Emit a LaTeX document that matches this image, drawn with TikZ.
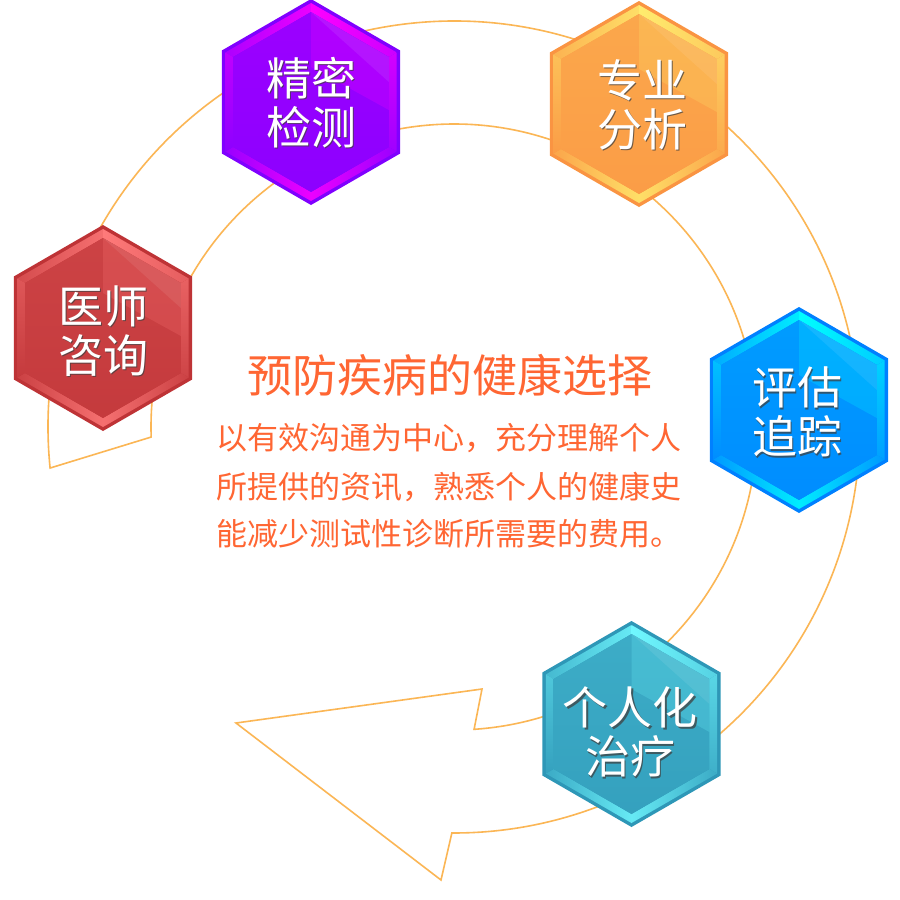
\documentclass[tikz,border=0pt]{standalone}
\usepackage{fontspec}
\newfontfamily\cjk{Noto Sans CJK SC}
\usetikzlibrary{calc}
\definecolor{ribbon}{HTML}{FBB655}
\definecolor{titlecol}{HTML}{FF6633}
\definecolor{pBase}{HTML}{8000FF}\definecolor{pHi}{HTML}{FF00FF}
\definecolor{rBase}{HTML}{BE3336}\definecolor{rHi}{HTML}{FF7A7A}
\definecolor{oBase}{HTML}{FA9442}\definecolor{oHi}{HTML}{FFEC6E}
\definecolor{bBase}{HTML}{0080FF}\definecolor{bHi}{HTML}{00FFFF}
\definecolor{tBase}{HTML}{2E97B7}\definecolor{tHi}{HTML}{70F8FF}
\tikzset{
  ribbonline/.style={draw=ribbon, line width=1.6pt, line join=miter},
  hexlabel/.style={font=\cjk\fontsize{45}{49}\selectfont, text=white, align=center, inner sep=0pt},
  hexshadow/.style={hexlabel, text=black!75, opacity=0.75},
  titletext/.style={font=\cjk\fontsize{45}{50}\selectfont, text=titlecol, inner sep=0pt},
  bodytext/.style={font=\cjk\fontsize{31}{48}\selectfont, text=titlecol, inner sep=0pt, anchor=base west}
}
\newcommand\glosshex[3]{%
  \begin{scope}[shift={(#1)}]
    \colorlet{hb}{#2}\colorlet{hh}{#3}%
    \def\Ra{103}\def\Rb{99}\def\Rc{90}%
    \fill[hb] (-90:\Ra)--(-30:\Ra)--(30:\Ra)--(90:\Ra)--(150:\Ra)--(210:\Ra)--cycle;
    % bevel bands
    \shade[left color=hh!35!hb, right color=hh!85!hb] (210:\Rb)--(-90:\Rb)--(-90:\Rc)--(210:\Rc)--cycle;
    \shade[left color=hh, right color=hh!60!hb] (-90:\Rb)--(-30:\Rb)--(-30:\Rc)--(-90:\Rc)--cycle;
    \shade[top color=hh!65!hb, bottom color=hh!25!hb] (-30:\Rb)--(30:\Rb)--(30:\Rc)--(-30:\Rc)--cycle;
    \shade[left color=hh!85!hb, right color=hh!20!hb] (90:\Rb)--(30:\Rb)--(30:\Rc)--(90:\Rc)--cycle;
    \shade[left color=hh!20!hb, right color=hh!85!hb] (150:\Rb)--(90:\Rb)--(90:\Rc)--(150:\Rc)--cycle;
    \shade[top color=hh!50!hb, bottom color=hh!10!hb] (150:\Rb)--(210:\Rb)--(210:\Rc)--(150:\Rc)--cycle;
    % inner face
    \shade[top color=hh!22!hb, middle color=hb, bottom color=hh!10!hb]
      (-90:\Rc)--(-30:\Rc)--(30:\Rc)--(90:\Rc)--(150:\Rc)--(210:\Rc)--cycle;
    % gloss wedge
    \fill[hh, opacity=0.22] (-90:\Rc)--(-30:\Rc)--(77.9,8)--(0,-35)--cycle;
    \fill[white, opacity=0.08] (-90:\Rc)--(-30:\Rc)--(77.9,-20)--cycle;
  \end{scope}}
\newcommand\hexlbl[3]{%
  \node[hexshadow] (#1s) at ($(#2)+(1.6,1.6)$) {#3};
  \node[hexlabel] (#1) at (#2) {#3};}
\begin{document}
\begin{tikzpicture}[x=1pt,y=-1pt]
\useasboundingbox (0,0) rectangle (900,900);
\fill[white] (0,0) rectangle (900,900);
% ribbon geometry
\coordinate (O) at (454,427);
\coordinate (tip) at (236,723);
\coordinate (ub) at (482,689);
\coordinate (lb) at (441,880);
\coordinate (in1) at ($(O)+(86.2:303)$);
\coordinate (out1) at ($(O)+(-185.8:406)$);
\draw[ribbonline] (tip) -- (ub) -- (in1)
  arc[start angle=86.2, end angle=-181.9, radius=303]
  -- (out1)
  arc[start angle=-185.8, end angle=90.3, radius=406]
  -- (lb) -- cycle;
% hexagons
\coordinate (cP) at (311,102);
\coordinate (cR) at (103,328);
\coordinate (cO) at (639,104);
\coordinate (cB) at (799,410);
\coordinate (cT) at (631.5,724);
\glosshex{cP}{pBase}{pHi}
\glosshex{cR}{rBase}{rHi}
\glosshex{cO}{oBase}{oHi}
\glosshex{cB}{bBase}{bHi}
\glosshex{cT}{tBase}{tHi}
\coordinate (lP) at (311,102.5);
\coordinate (lR) at (103,331);
\coordinate (lO) at (642,104.5);
\coordinate (lB) at (797,412);
\coordinate (lT) at (630,732);
\hexlbl{P}{lP}{精密\\检测}
\hexlbl{R}{lR}{医师\\咨询}
\hexlbl{Q}{lO}{专业\\分析}
\hexlbl{B}{lB}{评估\\追踪}
\hexlbl{T}{lT}{个人化\\治疗}
% centre text
\node[titletext, anchor=base] (title) at (449.5,392.6) {预防疾病的健康选择};
\node[bodytext] (L1) at (216,449) {以有效沟通为中心，充分理解个人};
\node[bodytext] (L2) at (216,498.5) {所提供的资讯，熟悉个人的健康史};
\node[bodytext] (L3) at (216,545.5) {能减少测试性诊断所需要的费用。};
\end{tikzpicture}
\end{document}
